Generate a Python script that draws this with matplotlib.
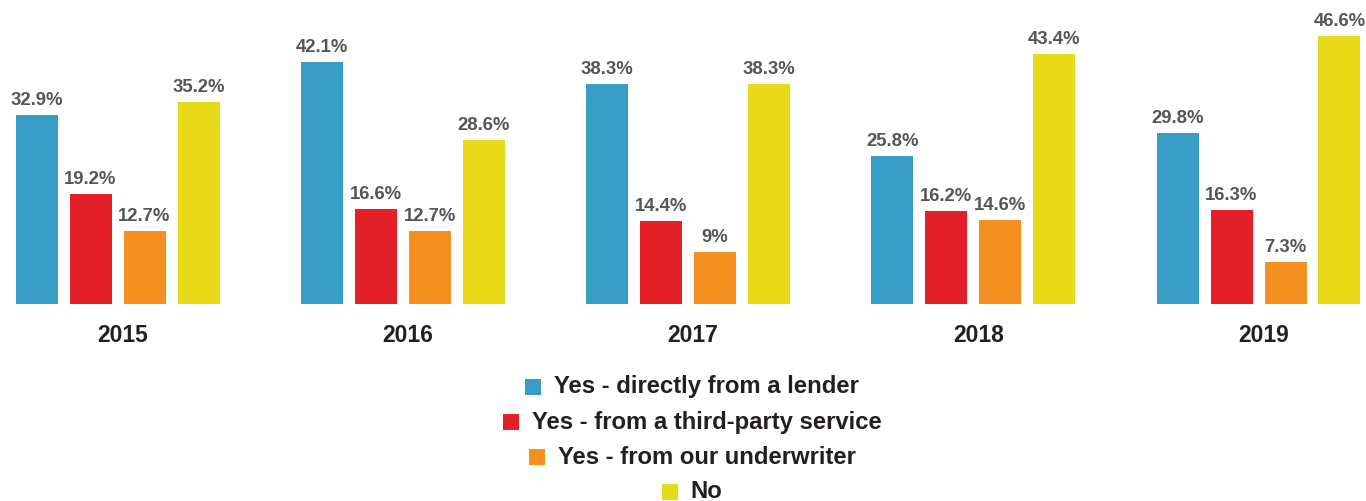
import matplotlib
matplotlib.use("Agg")
import matplotlib.pyplot as plt
from matplotlib.patches import Rectangle
import numpy as np

years = ["2015", "2016", "2017", "2018", "2019"]
series_names = [
    "Yes - directly from a lender",
    "Yes - from a third-party service",
    "Yes - from our underwriter",
    "No",
]
direct_lender = [32.9, 42.1, 38.3, 25.8, 29.8]
third_party = [19.2, 16.6, 14.4, 16.2, 16.3]
underwriter = [12.7, 12.7, 9.0, 14.6, 7.3]
no_answer = [35.2, 28.6, 38.3, 43.4, 46.6]
value_labels = [
    ["32.9%", "42.1%", "38.3%", "25.8%", "29.8%"],
    ["19.2%", "16.6%", "14.4%", "16.2%", "16.3%"],
    ["12.7%", "12.7%", "9%", "14.6%", "7.3%"],
    ["35.2%", "28.6%", "38.3%", "43.4%", "46.6%"],
]
colors = ["#379CC6", "#E31F28", "#F3901F", "#E8D919"]

W, H = 1366, 501
fig = plt.figure(figsize=(W / 100, H / 100), dpi=100)
fig.patch.set_facecolor("white")

FONT = "Liberation Sans"
base_px = 304          # baseline, px from top
px_per_unit = 5.75     # px per percentage point
group_px = 285.25
first_center_px = 117.5

ax = fig.add_axes([0, (H - base_px) / H, 1, base_px / H])
ax.set_xlim(-first_center_px / group_px, (W - first_center_px) / group_px)
ax.set_ylim(0, base_px / px_per_unit)
ax.axis("off")

series = [direct_lender, third_party, underwriter, no_answer]
pitch = 54 / group_px
width = 42 / group_px
x = np.arange(len(years))
for j, vals in enumerate(series):
    pos = x + (j - 1.5) * pitch
    bars = ax.bar(pos, vals, width=width, color=colors[j], linewidth=0)
    for b, lab in zip(bars, value_labels[j]):
        ax.annotate(lab, (b.get_x() + b.get_width() / 2, b.get_height()),
                    xytext=(0, 6), textcoords="offset pixels",
                    ha="center", va="bottom", fontsize=13.3,
                    fontweight="bold", color="#555555", family=FONT)

for i, yr in enumerate(years):
    ax.annotate(yr, (i, 0), xytext=(5, -31), textcoords="offset pixels",
                ha="center", va="center", fontsize=16.5, fontweight="bold",
                color="#231F20", family=FONT, annotation_clip=False)

# centered legend, one entry per row
fig.canvas.draw()
renderer = fig.canvas.get_renderer()
row_y = [387, 422, 457, 492]
sq = 16
gap = 13
center_x = 692
for name, c, ry in zip(series_names, colors, row_y):
    t = fig.text(0, 1 - ry / H, name, fontsize=17.2, fontweight="bold",
                 color="#231F20", family=FONT, ha="left", va="center")
    tw = t.get_window_extent(renderer).width
    total = sq + gap + tw
    left = center_x - total / 2
    t.set_x((left + sq + gap) / W)
    fig.patches.append(Rectangle((left / W, 1 - (ry + sq / 2) / H), sq / W, sq / H,
                                 transform=fig.transFigure, color=c, linewidth=0))

fig.savefig("out.png", dpi=100, facecolor="white")
